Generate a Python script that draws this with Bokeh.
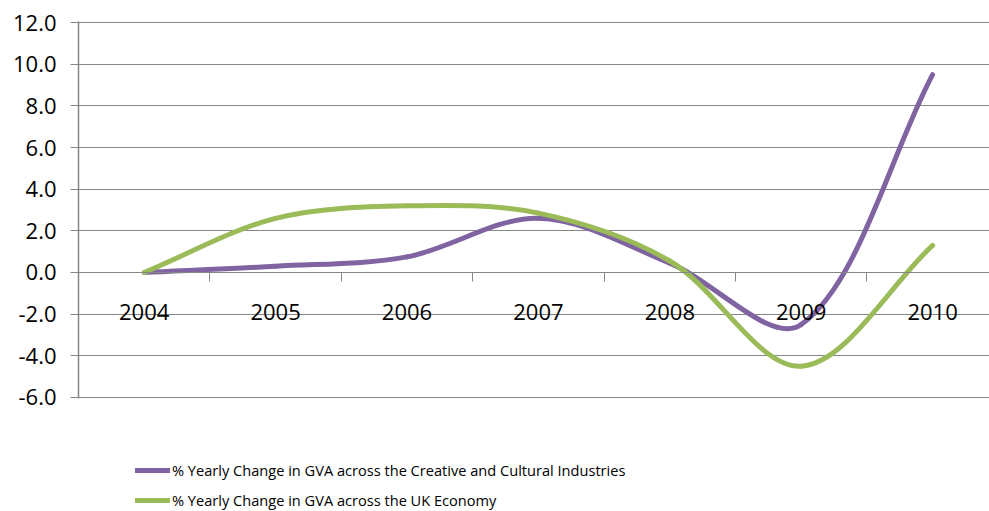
from bokeh.plotting import figure
from bokeh.layouts import column
from bokeh.models import (Range1d, FixedTicker, LinearAxis, Legend, LegendItem,
                          NumeralTickFormatter, ColumnDataSource)
from bokeh.embed import file_html
from bokeh.resources import INLINE

# Annual % change in gross value added, 2004-2010
years = ["2004", "2005", "2006", "2007", "2008", "2009", "2010"]
creative = [0.0, 0.3, 0.75, 2.6, 0.45, -2.5, 9.5]
uk_economy = [0.0, 2.6, 3.2, 2.85, 0.55, -4.5, 1.3]
y_ticks = [-6, -4, -2, 0, 2, 4, 6, 8, 10, 12]

series_names = [
    "% Yearly Change in GVA across the Creative and Cultural Industries",
    "% Yearly Change in GVA across the UK Economy",
]
series_colors = ["#8064A2", "#9BBB59"]

FONT = "Open Sans"
GRID = "#868686"
LINE_W = 5

W = 989
CHART_H, LEGEND_H = 411, 100
LEFT, TOP, BOTTOM = 78, 21, 13
X_START, X_END = -0.5, 6.433
Y_START, Y_END = -6.05, 12.05

# pixel scale of one data unit, used to weight the spline tangents
px_x = (W - LEFT) / (X_END - X_START)
px_y = (CHART_H - TOP - BOTTOM) / (Y_END - Y_START)


def smooth_segments(ys):
    """Cubic Bezier segments through every point (chord-weighted Catmull-Rom)."""
    xs = list(range(len(ys)))
    n = len(ys)

    def dist(i, j):
        if i < 0 or j >= n:
            return 0.0
        return (((xs[j] - xs[i]) * px_x) ** 2 + ((ys[j] - ys[i]) * px_y) ** 2) ** 0.5

    def tangent(i):
        a = max(i - 1, 0)
        b = min(i + 1, n - 1)
        return xs[b] - xs[a], ys[b] - ys[a]

    seg = dict(x0=[], y0=[], x1=[], y1=[], cx0=[], cy0=[], cx1=[], cy1=[])
    for i in range(n - 1):
        d_prev, d_cur, d_next = dist(i - 1, i), dist(i, i + 1), dist(i + 1, i + 2)
        f0 = d_cur / (d_prev + d_cur) / 3.0
        f1 = d_cur / (d_cur + d_next) / 3.0
        t0x, t0y = tangent(i)
        t1x, t1y = tangent(i + 1)
        seg["x0"].append(xs[i]); seg["y0"].append(ys[i])
        seg["x1"].append(xs[i + 1]); seg["y1"].append(ys[i + 1])
        seg["cx0"].append(xs[i] + t0x * f0); seg["cy0"].append(ys[i] + t0y * f0)
        seg["cx1"].append(xs[i + 1] - t1x * f1); seg["cy1"].append(ys[i + 1] - t1y * f1)
    return ColumnDataSource(seg)


p = figure(width=W, height=CHART_H, output_backend="svg", toolbar_location=None,
           x_range=Range1d(X_START, X_END), y_range=Range1d(Y_START, Y_END),
           x_axis_location=None, y_axis_location="left",
           min_border_left=LEFT, min_border_right=0,
           min_border_top=TOP, min_border_bottom=BOTTOM,
           outline_line_color=None, background_fill_color="white",
           border_fill_color="white")

# value axis
p.yaxis.ticker = FixedTicker(ticks=y_ticks)
p.yaxis.formatter = NumeralTickFormatter(format="0.0")
p.yaxis.major_label_text_font = FONT
p.yaxis.major_label_text_font_size = "22px"
p.yaxis.major_label_text_color = "black"
p.yaxis.major_label_standoff = 14
p.yaxis.major_tick_out = 8
p.yaxis.major_tick_in = 0
p.yaxis.minor_tick_out = 0
p.yaxis.minor_tick_in = 0
p.yaxis.major_tick_line_color = GRID
p.yaxis.axis_line_color = GRID
p.yaxis.axis_line_width = 1.5

p.xgrid.visible = False
p.ygrid.ticker = FixedTicker(ticks=y_ticks)
p.ygrid.grid_line_color = GRID
p.ygrid.grid_line_width = 1

# category axis crossing at zero: labels at the years, ticks between them
cat_axis = LinearAxis(
    fixed_location=0,
    ticker=FixedTicker(ticks=list(range(len(years))),
                       minor_ticks=[i + 0.5 for i in range(len(years) - 1)]),
    major_label_overrides={i: y for i, y in enumerate(years)},
    major_label_text_font=FONT, major_label_text_font_size="22px",
    major_label_text_color="black", major_label_standoff=23,
    major_tick_out=0, major_tick_in=0,
    minor_tick_out=9, minor_tick_in=0, minor_tick_line_color=GRID,
    axis_line_color=GRID, axis_line_width=1,
)
p.add_layout(cat_axis, "below")

for color, ys in zip(series_colors, [creative, uk_economy]):
    p.bezier(x0="x0", y0="y0", x1="x1", y1="y1", cx0="cx0", cy0="cy0",
             cx1="cx1", cy1="cy1", source=smooth_segments(ys),
             line_color=color, line_width=LINE_W, line_cap="round")

# legend strip under the chart (frames of the column are aligned)
leg = figure(width=W, height=LEGEND_H, output_backend="svg", toolbar_location=None,
             x_range=Range1d(0, 1), y_range=Range1d(0, 1),
             x_axis_location=None, y_axis_location=None,
             min_border=0, outline_line_color=None,
             background_fill_color="white", border_fill_color="white")
leg.grid.visible = False

items = []
for name, color, ys in zip(series_names, series_colors, [creative, uk_economy]):
    key = leg.line(x=list(range(len(ys))), y=ys, line_color=color,
                   line_width=LINE_W, line_cap="round", visible=False)
    items.append(LegendItem(label=name, renderers=[key]))

legend = Legend(items=items, location=(57, 1), orientation="vertical",
                background_fill_alpha=0, border_line_color=None,
                padding=0, margin=0, spacing=10,
                glyph_width=35, glyph_height=20, label_height=20,
                label_standoff=2, label_text_font=FONT,
                label_text_font_size="14.6px", label_text_color="black")
leg.add_layout(legend, "center")

layout = column(p, leg, spacing=0)
open("out.html", "w").write(file_html(layout, INLINE))
